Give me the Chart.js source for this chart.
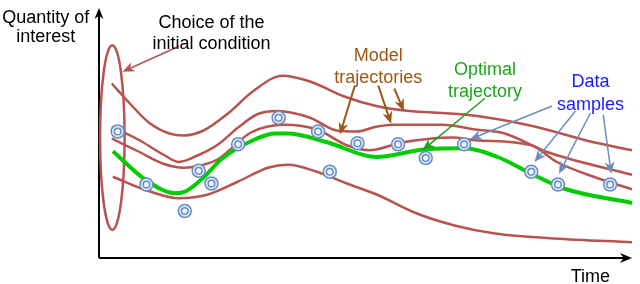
<!DOCTYPE html>
<html><head><meta charset="utf-8">
<script src="https://cdn.jsdelivr.net/npm/chart.js@4/dist/chart.umd.min.js"></script>
<style>html,body{margin:0;padding:0;background:#fff;overflow:hidden}</style>
</head><body>
<canvas id="c" width="640" height="284"></canvas>
<script>
// ---- data (time t: 0..100, quantity q: 0..100) ----
const model1 = [[2.4,69.8],[5.7,62.0],[9.4,54.1],[13.2,49.8],[15.9,49.0],[19.6,51.0],[24.3,58.0],[28.9,66.7],[34.4,72.9],[39.6,70.6],[45.9,64.7],[52.0,60.8],[58.2,58.8],[64.4,58.0],[70.6,56.9],[81.1,52.9],[92.8,46.3],[100,43.1]];
const model2 = [[2.4,52.5],[7.6,47.1],[12.2,41.2],[15.0,38.4],[18.7,41.2],[22.4,45.5],[26.1,52.2],[29.8,57.6],[33.5,58.8],[39.6,56.1],[44.6,51.0],[48.3,50.6],[52.0,52.5],[55.2,53.3],[64.4,53.3],[70.6,51.4],[76.1,49.8],[84.1,42.4],[100,33.3]];
const model3 = [[2.4,47.8],[7.6,42.4],[12.2,37.6],[15.9,36.1],[19.6,37.3],[22.4,39.6],[28.5,50.2],[34.8,53.3],[40.9,51.4],[46.5,45.1],[50.7,43.1],[57.0,46.3],[66.3,48.2],[70.6,47.1],[81.1,45.1],[85.9,38.4],[92.8,32.5],[100,27.5]];
const model4 = [[2.6,32.5],[9.4,26.7],[15.0,23.9],[20.6,25.5],[26.1,30.6],[31.7,36.1],[35.4,37.3],[40.9,34.5],[46.5,29.8],[52.0,25.5],[59.4,18.0],[66.9,12.9],[74.3,9.8],[85.4,7.8],[100,6.3]];
const optimal = [[2.6,42.7],[8.9,31.0],[14.4,25.9],[16.3,26.7],[19.6,32.2],[23.0,39.6],[29.3,47.5],[33.0,49.8],[35.4,49.8],[42.8,46.3],[52.0,40.4],[61.3,43.5],[68.7,43.9],[74.8,40.4],[81.1,33.7],[87.2,27.8],[100,22.0]];
const sampleT = [3.5,8.9,16.1,18.7,21.1,26.1,33.7,41.1,43.3,48.5,56.1,61.3,68.5,81.1,86.1,95.9];
const sampleQ = [50.6,29.4,18.8,34.9,29.8,45.5,56.1,50.6,34.5,45.9,45.5,40.0,45.5,34.5,29.4,29.4];
// initial-condition ellipse: centre t, centre q, half-width t, half-height q
const initialCondition = [2.5, 48.2, 2.3, 36.9];

// ---- annotation layout ----
const RED = '#b85450', BROWN = '#9e5616', GREEN_T = '#1fa31f', BLUE_T = '#1a1aff', BLUE = '#6c8ebf';
const texts = [
  ['Quantity of', -10, 94.1, '#000'], ['interest', -10, 86.3, '#000'],
  ['Choice of the', 21.1, 92.0, '#000'], ['initial condition', 21.1, 83.5, '#000'],
  ['Model', 52.4, 78.9, BROWN], ['trajectories', 52.4, 70.1, BROWN],
  ['Optimal', 72.4, 73.3, GREEN_T], ['trajectory', 72.4, 64.6, GREEN_T],
  ['Data', 92.2, 68.5, BLUE_T], ['samples', 92.2, 59.3, BLUE_T],
  ['Time', 92.2, -9.4, '#000']
];
const arrows = [
  [15.0,84.7, 4.4,74.5, RED, 1.5],
  [48.0,69.0, 45.2,49.4, BROWN, 2],
  [52.4,69.0, 54.8,53.7, BROWN, 2],
  [55.4,67.8, 57.2,58.8, BROWN, 2],
  [72.4,63.9, 60.7,43.1, '#19a119', 1.4],
  [85.0,60.8, 69.6,47.5, BLUE, 1.5],
  [89.4,58.8, 81.7,38.4, BLUE, 1.5],
  [92.2,58.0, 86.3,33.7, BLUE, 1.5],
  [94.6,57.3, 96.1,33.7, BLUE, 1.5]
];

function pts(a){ return a.map(p => ({x:p[0], y:p[1]})); }
function samplePts(){ return sampleT.map((t,i) => ({x:t, y:sampleQ[i]})); }

function drawArrowHead(ctx, x1, y1, x2, y2, color, hl, hw){
  const a = Math.atan2(y2-y1, x2-x1), c = Math.cos(a), s = Math.sin(a);
  ctx.beginPath();
  ctx.moveTo(x2, y2);
  ctx.lineTo(x2 - hl*c + hw/2*s, y2 - hl*s - hw/2*c);
  ctx.lineTo(x2 - hl*0.7*c, y2 - hl*0.7*s);
  ctx.lineTo(x2 - hl*c - hw/2*s, y2 - hl*s + hw/2*c);
  ctx.closePath();
  ctx.fillStyle = color; ctx.fill();
}

const decor = {
  id: 'decor',
  beforeDatasetsDraw(chart){
    const ctx = chart.ctx, xs = chart.scales.x, ys = chart.scales.y, ca = chart.chartArea;
    ctx.save();
    ctx.strokeStyle = '#000'; ctx.lineWidth = 2;
    ctx.beginPath();
    ctx.moveTo(ca.left, ca.bottom); ctx.lineTo(ca.left, ca.top + 8);
    ctx.moveTo(ca.left, ca.bottom); ctx.lineTo(ca.right - 8, ca.bottom);
    ctx.stroke();
    drawArrowHead(ctx, ca.left, ca.bottom, ca.left, ca.top, '#000', 11, 9);
    drawArrowHead(ctx, ca.left, ca.bottom, ca.right, ca.bottom, '#000', 12, 10);
    const [et, eq, ert, erq] = initialCondition;
    const cx = xs.getPixelForValue(et), cy = ys.getPixelForValue(eq);
    const rx = Math.abs(xs.getPixelForValue(et+ert) - cx), ry = Math.abs(ys.getPixelForValue(eq+erq) - cy);
    ctx.beginPath(); ctx.ellipse(cx, cy, rx, ry, 0, 0, Math.PI*2);
    ctx.strokeStyle = RED; ctx.lineWidth = 2.5; ctx.stroke();
    ctx.restore();
  },
  afterDatasetsDraw(chart){
    const ctx = chart.ctx, xs = chart.scales.x, ys = chart.scales.y;
    ctx.save();
    for (const [t1,q1,t2,q2,col,lw] of arrows){
      const x1 = xs.getPixelForValue(t1), y1 = ys.getPixelForValue(q1);
      const x2 = xs.getPixelForValue(t2), y2 = ys.getPixelForValue(q2);
      const a = Math.atan2(y2-y1, x2-x1);
      ctx.beginPath(); ctx.moveTo(x1,y1); ctx.lineTo(x2 - 8*Math.cos(a), y2 - 8*Math.sin(a));
      ctx.strokeStyle = col; ctx.lineWidth = lw; ctx.stroke();
      drawArrowHead(ctx, x1, y1, x2, y2, col, 12, 10);
    }
    ctx.font = '18px "Liberation Sans", Arial, sans-serif';
    ctx.textAlign = 'center'; ctx.textBaseline = 'alphabetic';
    for (const [txt,t,q,col] of texts){
      ctx.fillStyle = col;
      ctx.fillText(txt, xs.getPixelForValue(t), ys.getPixelForValue(q));
    }
    ctx.restore();
  }
};

const lineDs = (data, color, w, order) => ({type:'line', data: pts(data), borderColor: color, borderWidth: w,
  pointRadius: 0, cubicInterpolationMode: 'monotone', fill: false, clip: false, order: order});

new Chart(document.getElementById('c'), {
  type: 'scatter',
  data: { datasets: [
    lineDs(model1, RED, 2.5, 3), lineDs(model2, RED, 2.5, 3), lineDs(model3, RED, 2.5, 3), lineDs(model4, RED, 2.5, 3),
    lineDs(optimal, '#00cc00', 4, 2),
    {type:'scatter', order: 1, data: samplePts(), pointRadius: 6.5, pointHoverRadius: 6.5, backgroundColor: '#dae8fc', borderColor: BLUE, borderWidth: 1.5, clip: false},
    {type:'scatter', order: 0, data: samplePts(), pointRadius: 3.3, pointHoverRadius: 3.3, backgroundColor: '#eef4fd', borderColor: BLUE, borderWidth: 1.5, clip: false}
  ]},
  options: {
    responsive: false, animation: false,
    layout: { padding: { left: 99, right: 1, top: 3, bottom: 26 } },
    plugins: { legend: {display: false}, tooltip: {enabled: false} },
    scales: {
      x: { type: 'linear', min: 0, max: 100, display: false },
      y: { type: 'linear', min: 0, max: 100, display: false }
    }
  },
  plugins: [decor]
});
</script>
</body></html>
